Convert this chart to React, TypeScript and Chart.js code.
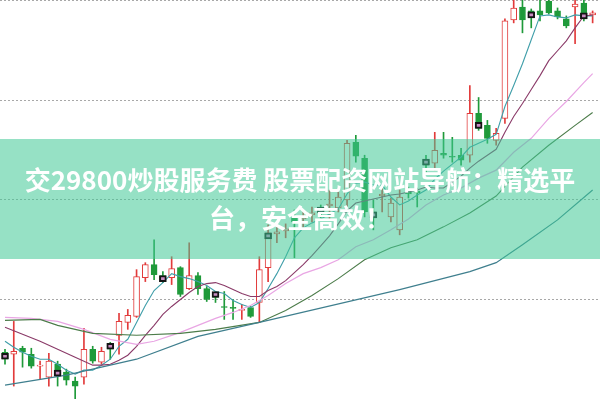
import React, { useEffect, useRef } from "react";
import { Chart, registerables } from "chart.js";
Chart.register(...registerables);

// ---- data (price units) ----
const opens = [9.47,9.45,9.51,9.45,9.33,9.22,9.35,9.27,9.18,9.22,9.50,9.37,9.55,9.64,9.77,9.83,10.22,10.35,10.24,10.22,10.32,10.11,10.24,10.11,10.07,9.93,9.92,9.89,9.92,9.97,10.32,10.66,10.69,10.82,10.81,10.85,10.90,10.94,10.92,11.00,11.58,11.42,10.88,11.04,10.83,10.70,11.08,11.09,11.40,11.37,11.47,11.44,11.45,11.45,11.87,11.75,11.60,11.82,12.81,12.94,12.90,12.90,13.00,12.90,12.82,12.94,12.98,12.86];
const highs = [9.50,9.78,9.53,9.51,9.38,9.46,9.38,9.30,9.22,9.71,9.53,9.52,9.57,9.86,9.90,10.30,10.37,10.60,10.28,10.43,10.33,10.57,10.27,10.13,10.08,10.08,10.00,9.95,9.93,10.43,10.75,10.75,10.76,10.90,10.88,10.93,10.95,11.10,11.08,11.60,11.65,11.45,11.00,11.12,11.02,11.10,11.13,11.12,11.45,11.68,11.68,11.63,11.52,12.15,12.03,11.80,11.72,12.82,13.05,13.05,12.92,13.05,13.05,12.93,12.85,13.05,13.05,12.90];
const lows = [9.35,9.13,9.32,9.31,9.20,9.13,9.13,9.14,8.95,9.15,9.36,9.35,9.40,9.45,9.70,9.82,10.18,10.20,10.17,10.15,10.03,10.10,10.05,9.98,9.97,9.80,9.80,9.80,9.82,9.77,10.18,10.57,10.62,10.42,10.72,10.78,10.82,10.80,10.88,10.93,11.38,10.83,10.70,10.88,10.78,10.65,11.02,10.93,11.28,11.30,11.42,11.38,11.35,11.38,11.70,11.57,11.55,11.77,12.78,12.68,12.73,12.80,12.87,12.82,12.73,12.57,12.80,12.78];
const closes = [9.40,9.48,9.47,9.33,9.34,9.38,9.23,9.19,9.13,9.50,9.38,9.48,9.50,9.78,9.84,10.23,10.35,10.25,10.18,10.31,10.05,10.24,10.11,10.00,10.02,9.92,9.91,9.90,9.83,10.30,10.67,10.68,10.71,10.78,10.83,10.87,10.87,10.96,11.03,11.57,11.44,10.88,10.82,11.06,10.97,11.03,11.06,11.07,11.35,11.50,11.45,11.43,11.40,11.87,11.72,11.62,11.67,12.80,12.93,12.81,12.83,12.86,12.88,12.84,12.75,12.97,12.82,12.88];

// moving-average lines: [candle index, value]
const ma5 = [9.58,9.52,9.47,9.43,9.40,9.40,9.35,9.29,9.25,9.29,9.29,9.34,9.40,9.53,9.60,9.77,9.94,10.09,10.17,10.26,10.23,10.21,10.18,10.14,10.08,10.06,9.99,9.95,9.92,9.97,10.11,10.26,10.43,10.62,10.72,10.77,10.81,10.86,10.91,11.06,11.17,11.18,11.15,11.15,11.03,10.95,10.99,11.05,11.10,11.21,11.29,11.36,11.43,11.53,11.57,11.61,11.66,11.94,12.15,12.37,12.61,12.85,12.86,12.84,12.83,12.86,12.85,12.85];
const ma10 = [[0,9.72],[2,9.65],[4,9.58],[6,9.50],[8,9.42],[10,9.34],[11,9.34],[12,9.35],[13,9.39],[14,9.44],[15,9.53],[16,9.64],[17,9.74],[18,9.85],[19,9.93],[20,10.00],[21,10.07],[22,10.13],[23,10.16],[24,10.17],[25,10.14],[26,10.10],[27,10.06],[28,10.03],[29,10.03],[30,10.09],[31,10.13],[32,10.19],[33,10.27],[34,10.35],[35,10.44],[36,10.54],[37,10.64],[38,10.76],[39,10.89],[40,10.97],[41,10.99],[42,11.01],[43,11.03],[44,11.05],[45,11.06],[46,11.08],[47,11.10],[48,11.13],[49,11.12],[50,11.12],[51,11.18],[52,11.24],[53,11.32],[54,11.39],[55,11.45],[56,11.51],[57,11.68],[58,11.84],[59,11.97],[60,12.11],[61,12.25],[62,12.40],[63,12.50],[64,12.60],[65,12.73],[66,12.85],[67,12.86]];
const ma20 = [[0,9.82],[3,9.81],[6,9.78],[9,9.70],[12,9.60],[15,9.55],[17,9.58],[19,9.64],[20,9.67],[22,9.74],[24,9.81],[26,9.87],[28,9.94],[30,10.04],[32,10.16],[34,10.26],[36,10.32],[38,10.40],[40,10.53],[42,10.60],[44,10.70],[46,10.81],[48,10.95],[50,11.05],[52,11.12],[54,11.22],[56,11.30],[58,11.48],[60,11.62],[62,11.82],[64,11.99],[66,12.18],[67,12.27]];
const ma30 = [[0,9.79],[4,9.80],[6,9.74],[10,9.66],[15,9.64],[20,9.66],[24,9.70],[29,9.77],[32,9.89],[35,10.04],[38,10.21],[41,10.40],[44,10.52],[47,10.60],[50,10.73],[53,10.87],[56,11.04],[59,11.33],[62,11.55],[65,11.75],[67,11.88]];
const ma60 = [[0,9.14],[7,9.24],[15,9.40],[22,9.63],[29,9.77],[45,10.10],[53,10.28],[56,10.37],[59,10.55],[63,10.80],[67,11.10]];

const markerIdx = [0,6,12,18,24,30,36,42,48,54,60,66];
const gridTicks = [10, 11, 12, 13];
const titleLine1 = "交29800炒股服务费 股票配资网站导航：精选平";
const titleLine2 = "台，安全高效！";

const RED = "#e23b3b";
const GREEN = "#1f9a3a";

export default function App() {
  const ref = useRef<HTMLCanvasElement | null>(null);
  useEffect(() => {
    if (!ref.current) return;
    const idx = closes.map((_, i) => i);
    const isUp = (i: number) => closes[i] >= opens[i];
    const pairs = (arr: number[][]) => arr.map(([i, v]) => ({ x: i, y: v }));
    const lineDs = (label: string, data: any[], color: string, w = 1.1) => ({
      type: "line" as const,
      label,
      data,
      borderColor: color,
      borderWidth: w,
      pointRadius: 0,
      tension: 0,
      spanGaps: true,
      order: 0,
    });
    const chart = new Chart(ref.current, {
      type: "bar",
      data: {
        datasets: [
          lineDs("MA60", pairs(ma60), "#3f7f8e", 1.2),
          lineDs("MA30", pairs(ma30), "#4c7c4a", 1.1),
          lineDs("MA20", pairs(ma20), "#e9a6e4", 1.2),
          lineDs("MA10", pairs(ma10), "#8a3a68", 1.1),
          lineDs("MA5", ma5.map((v, i) => ({ x: i, y: v })), "#3f9ea9", 1.1),
          {
            type: "bar" as const,
            label: "marker",
            data: markerIdx.map((i) => {
              const d = opens[i] - closes[i] >= 0 ? 1 : -1;
              return { x: i, y: [closes[i], closes[i] + 0.06 * d] };
            }),
            backgroundColor: "#c98cc2",
            borderColor: "#141414",
            borderWidth: 2,
            borderSkipped: false,
            barThickness: 7,
            grouped: false,
            order: -1,
          },
          {
            type: "bar" as const,
            label: "body",
            data: idx.map((i) => ({ x: i, y: [opens[i], closes[i]] })),
            backgroundColor: idx.map((i) => (isUp(i) ? "#ffffff" : GREEN)),
            borderColor: idx.map((i) => (isUp(i) ? RED : GREEN)),
            borderWidth: 1,
            borderSkipped: false,
            barThickness: 6,
            minBarLength: 1,
            grouped: false,
            order: 2,
          },
          {
            type: "bar" as const,
            label: "wick",
            data: idx.map((i) => ({ x: i, y: [lows[i], highs[i]] })),
            backgroundColor: idx.map((i) => (isUp(i) ? RED : GREEN)),
            borderWidth: 0,
            barThickness: 1,
            grouped: false,
            order: 3,
          },
        ] as any,
      },
      options: {
        animation: false,
        responsive: false,
        maintainAspectRatio: false,
        layout: { padding: 0 },
        plugins: { legend: { display: false }, tooltip: { enabled: false } },
        scales: {
          x: { type: "linear", min: -0.57, max: 67.84, display: false, offset: false },
          y: {
            min: 9.0,
            max: 13.01,
            afterBuildTicks: (s: any) => {
              s.ticks = gridTicks.map((v) => ({ value: v }));
            },
            afterFit: (s: any) => {
              s.width = 0;
            },
            ticks: { display: false },
            grid: { color: "#a8a8a8", lineWidth: 1, drawTicks: false },
            border: { display: false, dash: [2, 2] },
          },
        },
      } as any,
    });
    return () => chart.destroy();
  }, []);

  return (
    <div style={{ position: "fixed", left: 0, top: 0, width: 600, height: 399, background: "#fff", overflow: "hidden" }}>
      <canvas ref={ref} width={600} height={399} style={{ width: 600, height: 399, display: "block" }} />
      <div
        style={{
          position: "absolute",
          left: 0,
          top: 139,
          width: 600,
          height: 120,
          background: "rgba(64, 200, 150, 0.55)",
        }}
      />
      <div
        style={{
          position: "absolute",
          left: 0,
          top: 160,
          width: 600,
          textAlign: "center",
          color: "#ffffff",
          fontFamily: '"Noto Sans CJK SC", "Noto Sans", sans-serif',
          fontWeight: 700,
          fontSize: 26,
          lineHeight: "38px",
          whiteSpace: "nowrap",
        }}
      >
        <div>{titleLine1}</div>
        <div>{titleLine2}</div>
      </div>
    </div>
  );
}
